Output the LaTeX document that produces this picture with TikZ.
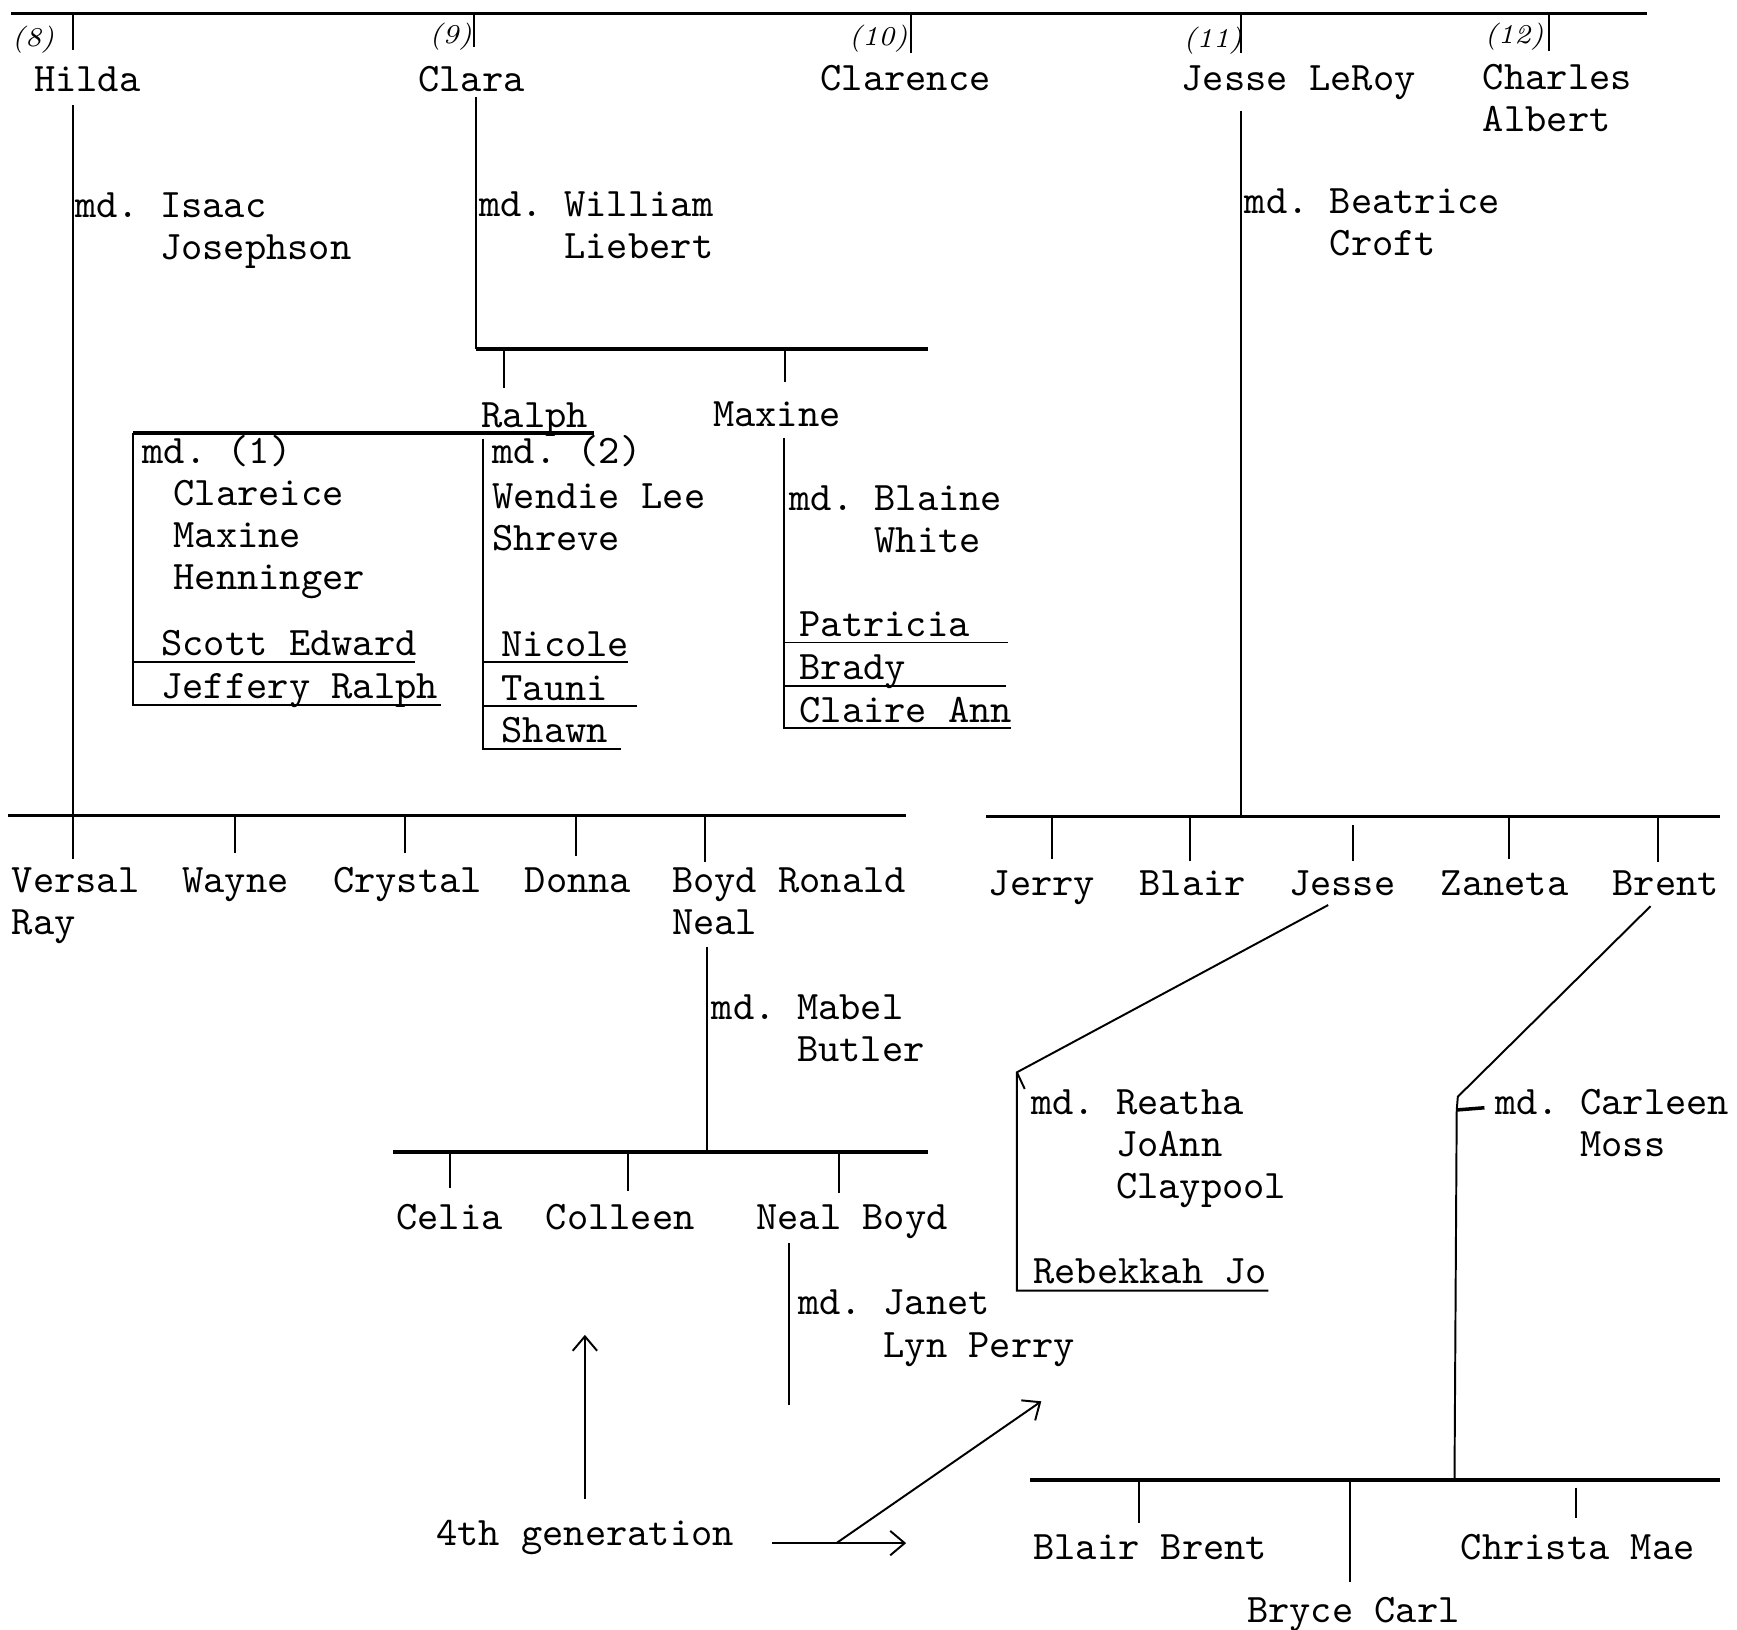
\documentclass[tikz,border=0pt]{standalone}
\usepackage{tikz}
\usetikzlibrary{positioning,arrows.meta}
\newcommand{\typew}{\fontsize{10.4}{10.8}\selectfont\ttfamily}
\newcommand{\ind}{\phantom{md. }}
\frenchspacing

\begin{document}
\begin{tikzpicture}[x=0.01cm,y=-0.01cm,
    person/.style={inner sep=0pt,anchor=base west,align=left,font=\typew},
    genno/.style={inner sep=0pt,font=\itshape\scriptsize},
    bar/.style={line width=0.9pt},
    stem/.style={line width=0.5pt},
    twig/.style={line width=0.5pt},
    pointer/.style={line width=0.5pt,-{Straight Barb[length=1.3mm,width=2.2mm]}}]
  \useasboundingbox (0,0) rectangle (1568,1471);
  % multi-line nodes sit on the baseline of their last line

  % first row
  \draw[bar] (10,12) -- (1487,12);
  \foreach \x/\e in {66/45,428/42,822/48,1120/48,1398/46}
    \draw[twig] (\x,12) -- (\x,\e);
  \node[genno] (n8) at (30,36) {(8)};
  \node[genno] (n9) at (407,33) {(9)};
  \node[genno] (n10) at (793,35) {(10)};
  \node[genno] (n11) at (1095,37) {(11)};
  \node[genno] (n12) at (1367,33) {(12)};
  \node[person] (hilda) at (30,83) {Hilda};
  \node[person] (clara) at (377,83) {Clara};
  \node[person] (clarence) at (740,82) {Clarence};
  \node[person] (jesseroy) at (1066,82) {Jesse LeRoy};
  \node[person] (charles) at (1338,119) {Charles\\Albert};

  % Hilda
  \draw[stem] (66,95) -- (66,775);
  \node[person] (mdisaac) at (67,234) {md. Isaac\\\ind Josephson};
  \draw[bar] (7,736) -- (818,736);
  \foreach \x/\e in {212/770,366/770,520/773,636/778}
    \draw[twig] (\x,736) -- (\x,\e);
  \node[person] (versal) at (10,844) {Versal\\Ray};
  \node[person] (wayne) at (164,806) {Wayne};
  \node[person] (crystal) at (300,806) {Crystal};
  \node[person] (donna) at (473,806) {Donna};
  \node[person] (boyd) at (606,844) {Boyd\\Neal};
  \node[person] (ronald) at (702,806) {Ronald};

  % Clara
  \draw[stem] (430,88) -- (430,315);
  \draw[bar] (430,315) -- (838,315);
  \node[person] (mdwilliam) at (432,233) {md. William\\\ind Liebert};
  \draw[twig] (455,315) -- (455,350);
  \draw[twig] (709,315) -- (709,345);
  \node[person] (ralph) at (434,386) {Ralph};
  \node[person] (maxine) at (643,385) {Maxine};

  % Ralph, first and second marriage
  \coordinate (brone) at (120,391);
  \coordinate (brtwo) at (436,396);
  \draw[bar] (536,391) -- (brone);
  \draw[stem] (brone) -- (120,636) -- (398,636);
  \node[person] (mdone) at (128,418) {md. (1)};
  \node[person] (clareice) at (156,532) {Clareice\\Maxine\\Henninger};
  \node[person] (scott) at (145,592) {Scott Edward};
  \node[person] (jeffery) at (145,631) {Jeffery Ralph};
  \draw[stem] (brone |- 0,598) -- (375,598);
  \draw[stem] (brtwo) -- (436,676) -- (561,676);
  \node[person] (mdtwo) at (444,418) {md. (2)};
  \node[person] (wendie) at (444,497) {Wendie Lee\\Shreve};
  \node[person] (nicole) at (452,593) {Nicole};
  \node[person] (tauni) at (452,632) {Tauni};
  \node[person] (shawn) at (452,670) {Shawn};
  \draw[stem] (brtwo |- 0,598) -- (567,598);
  \draw[stem] (brtwo |- 0,637) -- (575,637);

  % Maxine
  \coordinate (brmax) at (708,395);
  \draw[stem] (brmax) -- (708,657) -- (913,657);
  \node[person] (mdblaine) at (712,499) {md. Blaine\\\ind White};
  \node[person] (patricia) at (721,575) {Patricia};
  \node[person] (brady) at (721,613) {Brady};
  \node[person] (claire) at (721,652) {Claire Ann};
  \draw[stem] (brmax |- 0,580) -- (910,580);
  \draw[stem] (brmax |- 0,619) -- (908,619);

  % Boyd Neal
  \draw[stem] (638,855) -- (638,1040);
  \node[person] (mdmabel) at (642,958) {md. Mabel\\\ind Butler};
  \draw[bar] (355,1040) -- (838,1040);
  \foreach \x/\e in {406/1072,567/1075,757/1077}
    \draw[twig] (\x,1042) -- (\x,\e);
  \node[person] (celia) at (357,1110) {Celia};
  \node[person] (colleen) at (492,1110) {Colleen};
  \node[person] (nealboyd) at (682,1110) {Neal Boyd};
  \draw[stem] (712,1122) -- (712,1268);
  \node[person] (mdjanet) at (720,1225) {md. Janet\\\ind Lyn Perry};

  % Jesse LeRoy
  \draw[stem] (1120,100) -- (1120,737);
  \node[person] (mdbeatrice) at (1123,231) {md. Beatrice\\\ind Croft};
  \draw[bar] (890,737) -- (1553,737);
  \foreach \x/\s/\e in {950/737/775,1074/737/777,1221/745/777,1362/737/775,1497/737/778}
    \draw[twig] (\x,\s) -- (\x,\e);
  \node[person] (jerry) at (892,808) {Jerry};
  \node[person] (blair) at (1028,808) {Blair};
  \node[person] (jesse) at (1163,808) {Jesse};
  \node[person] (zaneta) at (1300,808) {Zaneta};
  \node[person] (brent) at (1455,808) {Brent};

  % Jesse
  \coordinate (jbend) at (918,968);
  \draw[stem] (1199,817) -- (jbend) -- (918,1165) -- (1145,1165);
  \draw[stem] (jbend) -- (925,983);
  \node[person] (mdreatha) at (930,1082) {md. Reatha\\\ind JoAnn\\\ind Claypool};
  \node[person] (rebekkah) at (932,1159) {Rebekkah Jo};

  % Brent
  \coordinate (bbend) at (1315,1002);
  \draw[stem] (1490,818) -- (1316,990) -- (bbend) -- (1313,1336);
  \draw[line width=0.9pt] (bbend) -- (1340,1000);
  \node[person] (mdcarleen) at (1349,1044) {md. Carleen\\\ind Moss};
  \draw[bar] (930,1336) -- (1553,1336);
  \draw[twig] (1028,1336) -- (1028,1375);
  \draw[twig] (1219,1336) -- (1219,1428);
  \draw[twig] (1423,1343) -- (1423,1370);
  \node[person] (blairbrent) at (932,1408) {Blair Brent};
  \node[person] (bryce) at (1125,1465) {Bryce Carl};
  \node[person] (christa) at (1318,1408) {Christa Mae};

  % 4th generation
  \node[person] (fourth) at (393,1395) {4th generation};
  \coordinate (fork) at (755,1393);
  \draw[pointer] (528,1353) -- (528,1205);
  \draw[pointer] (697,1393) -- (818,1393);
  \draw[pointer] (fork) -- (940,1265);
\end{tikzpicture}
\end{document}
